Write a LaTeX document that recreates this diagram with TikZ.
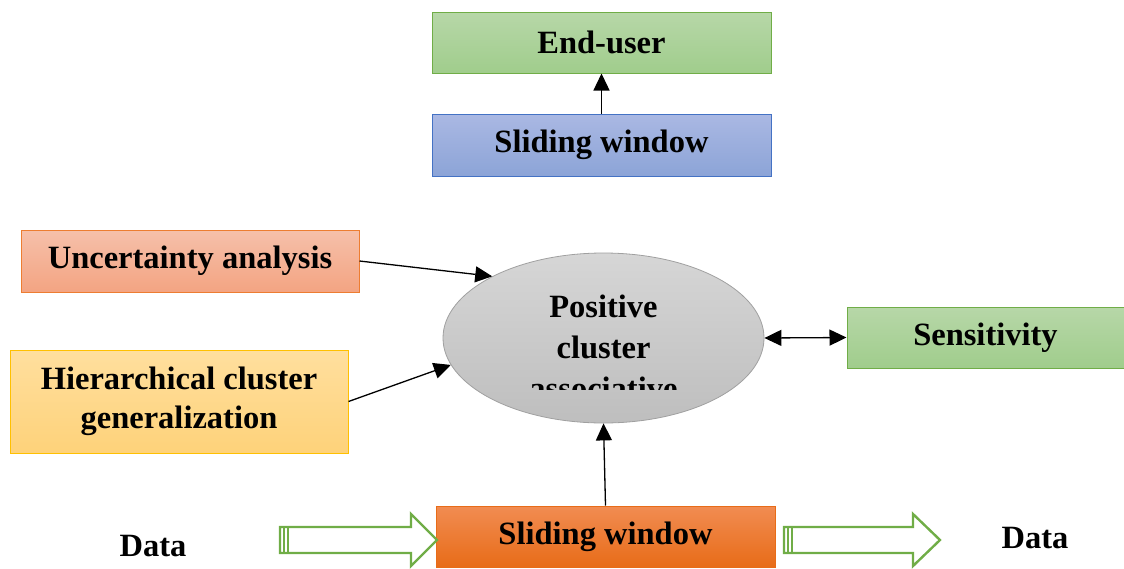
\documentclass[tikz,border=0pt]{standalone}
\usepackage{fontspec}
\setmainfont{Liberation Serif}
\usetikzlibrary{shapes.geometric,arrows.meta}

\definecolor{grnTop}{RGB}{183,215,168}
\definecolor{grnBot}{RGB}{160,205,140}
\definecolor{grnLine}{RGB}{112,173,71}
\definecolor{bluTop}{RGB}{170,184,227}
\definecolor{bluBot}{RGB}{140,164,215}
\definecolor{bluLine}{RGB}{68,114,196}
\definecolor{salTop}{RGB}{246,192,170}
\definecolor{salBot}{RGB}{243,164,130}
\definecolor{salLine}{RGB}{237,125,49}
\definecolor{yelTop}{RGB}{255,223,158}
\definecolor{yelBot}{RGB}{254,210,122}
\definecolor{yelLine}{RGB}{255,192,0}
\definecolor{orgTop}{RGB}{241,140,82}
\definecolor{orgBot}{RGB}{232,108,24}
\definecolor{gryTop}{RGB}{214,214,214}
\definecolor{gryBot}{RGB}{190,190,190}
\definecolor{gryLine}{RGB}{160,160,160}

\tikzset{
  lbl/.style={font=\fontsize{32.5}{41}\selectfont\bfseries},
  box/.style={lbl, draw, line width=1pt, inner sep=0pt, align=center},
  greenbox/.style={box, top color=grnTop, bottom color=grnBot, draw=grnLine},
  bluebox/.style={box, top color=bluTop, bottom color=bluBot, draw=bluLine},
  salmonbox/.style={box, top color=salTop, bottom color=salBot, draw=salLine},
  yellowbox/.style={box, top color=yelTop, bottom color=yelBot, draw=yelLine},
  orangebox/.style={box, top color=orgTop, bottom color=orgBot, draw=orgBot},
  tip/.tip={Triangle[length=17pt,width=16pt]},
  link/.style={line width=1.3pt, -tip},
  dlink/.style={line width=1.3pt, tip-tip},
  blockarrow/.style={draw=grnLine, fill=white, line width=2.4pt, line join=miter},
}

\begin{document}
\begin{tikzpicture}[x=1pt,y=-1pt]
  \useasboundingbox (0,0) rectangle (1124,568);

  % top pair
  \node[greenbox, minimum width=339, minimum height=61] (eu) at (601.5,42.5) {End-user};
  \node[bluebox, minimum width=339, minimum height=62] (sw1) at (601.5,145) {Sliding window};

  % left inputs
  \node[salmonbox, minimum width=338, minimum height=62] (unc) at (190,261) {Uncertainty analysis};
  \node[yellowbox, minimum width=338, minimum height=103] (hier) at (179,401.5)
    {Hierarchical cluster\\[-2pt]generalization};

  % central ellipse
  \node[ellipse, draw=gryLine, line width=0.8pt, top color=gryTop, bottom color=gryBot,
        minimum width=321, minimum height=170, inner sep=0pt] (pc) at (603.5,338) {};
  \begin{scope}
    \clip (443,250) rectangle (764,389);
    \node[lbl, align=center, anchor=north] (pctext) at (603.5,291)
      {Positive\\cluster\\associative};
  \end{scope}

  % right output
  \node[greenbox, minimum width=277, minimum height=61] (sens) at (985.5,337.5) {Sensitivity};

  % bottom stream
  \node[orangebox, minimum width=339, minimum height=61] (sw2) at (605.5,536.5) {Sliding window};
  \node[lbl] (din) at (153,546) {Data};
  \node[lbl] (dout) at (1035,538) {Data};

  % hollow block arrows with striped tails
  \coordinate (la1) at (280,527);
  \coordinate (la2) at (411,527);
  \coordinate (la3) at (411,514);
  \coordinate (la4) at (437,540);
  \coordinate (la5) at (411,566);
  \coordinate (la6) at (411,553);
  \coordinate (la7) at (280,553);
  \draw[blockarrow] (la1) -- (la2) -- (la3) -- (la4) -- (la5) -- (la6) -- (la7) -- cycle;
  \draw[grnLine, line width=1.6pt] (284,527) -- (284,553) (288,527) -- (288,553);

  \coordinate (ra1) at (784,527);
  \coordinate (ra2) at (913,527);
  \coordinate (ra3) at (913,514);
  \coordinate (ra4) at (940,540);
  \coordinate (ra5) at (913,566);
  \coordinate (ra6) at (913,553);
  \coordinate (ra7) at (784,553);
  \draw[blockarrow] (ra1) -- (ra2) -- (ra3) -- (ra4) -- (ra5) -- (ra6) -- (ra7) -- cycle;
  \draw[grnLine, line width=1.6pt] (788,527) -- (788,553) (792,527) -- (792,553);

  % connectors
  \draw[link] (sw1.north) -- (eu.south);
  \draw[link] (unc.east) -- (pc.151);
  \draw[link] (hier.east) -- (pc.190);
  \draw[link] (sw2.north) -- (pc.south);
  \draw[dlink] (pc.east) -- (sens.west);
\end{tikzpicture}
\end{document}
